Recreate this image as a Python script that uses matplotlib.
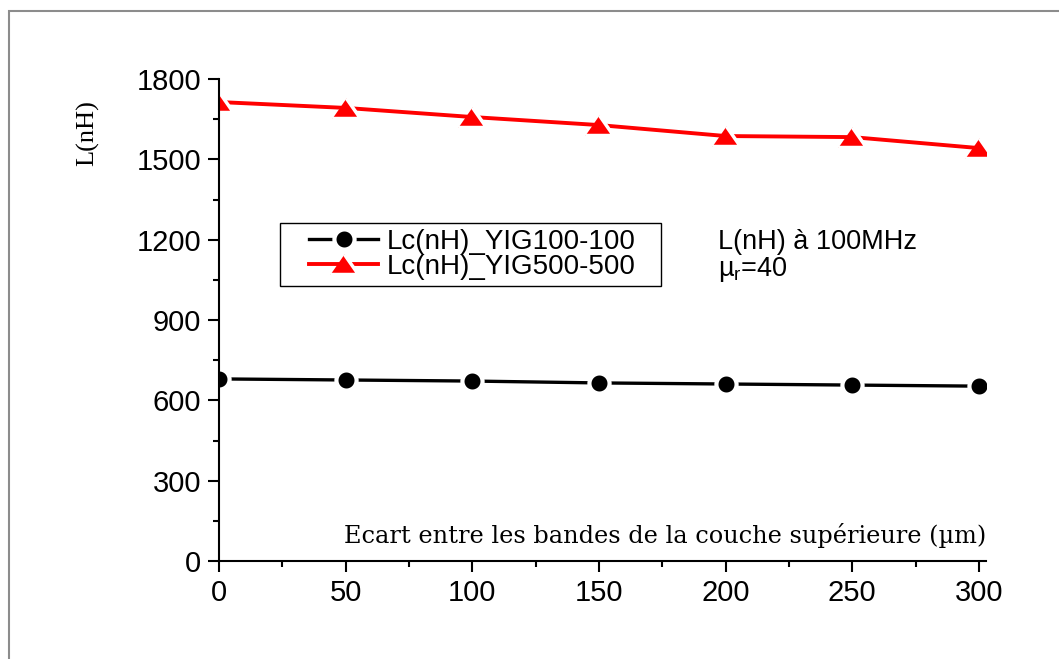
import matplotlib.pyplot as plt
from matplotlib.patches import Rectangle

ecart = [0, 50, 100, 150, 200, 250, 300]
lc_yig100 = [680, 676, 672, 665, 661, 657, 653]
lc_yig500 = [1714, 1692, 1658, 1628, 1587, 1583, 1542]

W, H = 1059, 659
fig = plt.figure(figsize=(W / 100, H / 100), dpi=100)
ax = fig.add_axes([219 / W, 1 - 561 / H, (986 - 219) / W, (561 - 79) / H])

# gray frame around the figure
fig.patches.append(Rectangle((9 / W, -0.1), 1.2, 1 - 11 / H + 0.1,
                             transform=fig.transFigure, fill=False,
                             edgecolor='#8c8c8c', linewidth=1.5))

tri = [(-1, -0.72), (1, -0.72), (0, 0.72)]
ax.plot(ecart, lc_yig100, color='black', lw=2.4, marker='o', markersize=14.5,
        markeredgecolor='white', markeredgewidth=3, label='Lc(nH)_YIG100-100')
ax.plot(ecart, lc_yig500, color='red', lw=2.8, marker=tri, markersize=20,
        markeredgecolor='white', markeredgewidth=2.5, label='Lc(nH)_YIG500-500')

ax.set_xlim(0, 302.8)
ax.set_ylim(0, 1800)
ax.set_xticks([0, 50, 100, 150, 200, 250, 300])
ax.set_xticks([25, 75, 125, 175, 225, 275], minor=True)
ax.set_yticks([0, 300, 600, 900, 1200, 1500, 1800])
ax.set_yticks([150, 450, 750, 1050, 1350, 1650], minor=True)
for s in ['top', 'right']:
    ax.spines[s].set_visible(False)
for s in ['left', 'bottom']:
    ax.spines[s].set_linewidth(1.5)
ax.tick_params(which='major', direction='out', length=8, width=1.5,
               labelsize=21, pad=5)
ax.tick_params(which='minor', direction='out', length=4, width=1.5)
for lbl in ax.get_xticklabels() + ax.get_yticklabels():
    lbl.set_family('Liberation Sans')

fig.text(986 / W, 1 - 543 / H, 'Ecart entre les bandes de la couche supérieure (µm)',
         ha='right', va='baseline', family='DejaVu Serif', fontsize=17.3)
fig.text(88 / W, 1 - 133 / H, 'L(nH)', rotation=90, ha='center',
         va='center', family='Liberation Serif', fontsize=19)

# legend: frame drawn separately
fig.patches.append(Rectangle((280 / W, 1 - 286 / H), (661 - 280) / W, 63 / H,
                             transform=fig.transFigure, fill=False,
                             edgecolor='black', linewidth=1))
leg = ax.legend(loc='center left', bbox_to_anchor=(309 / W, 1 - 254.5 / H),
                bbox_transform=fig.transFigure, frameon=False,
                prop={'family': 'Liberation Sans', 'size': 20},
                handlelength=2.5, borderpad=0, borderaxespad=0,
                labelspacing=-0.05, handletextpad=0.3)

fig.text(718 / W, 1 - 242 / H, 'L(nH) à 100MHz', family='Liberation Sans',
         fontsize=19.5, va='center')
fig.text(718 / W, 1 - 270 / H, r'µ$_{\mathregular{r}}$=40',
         family='Liberation Sans', fontsize=19.5, va='center')

fig.savefig('out.png', dpi=100)
